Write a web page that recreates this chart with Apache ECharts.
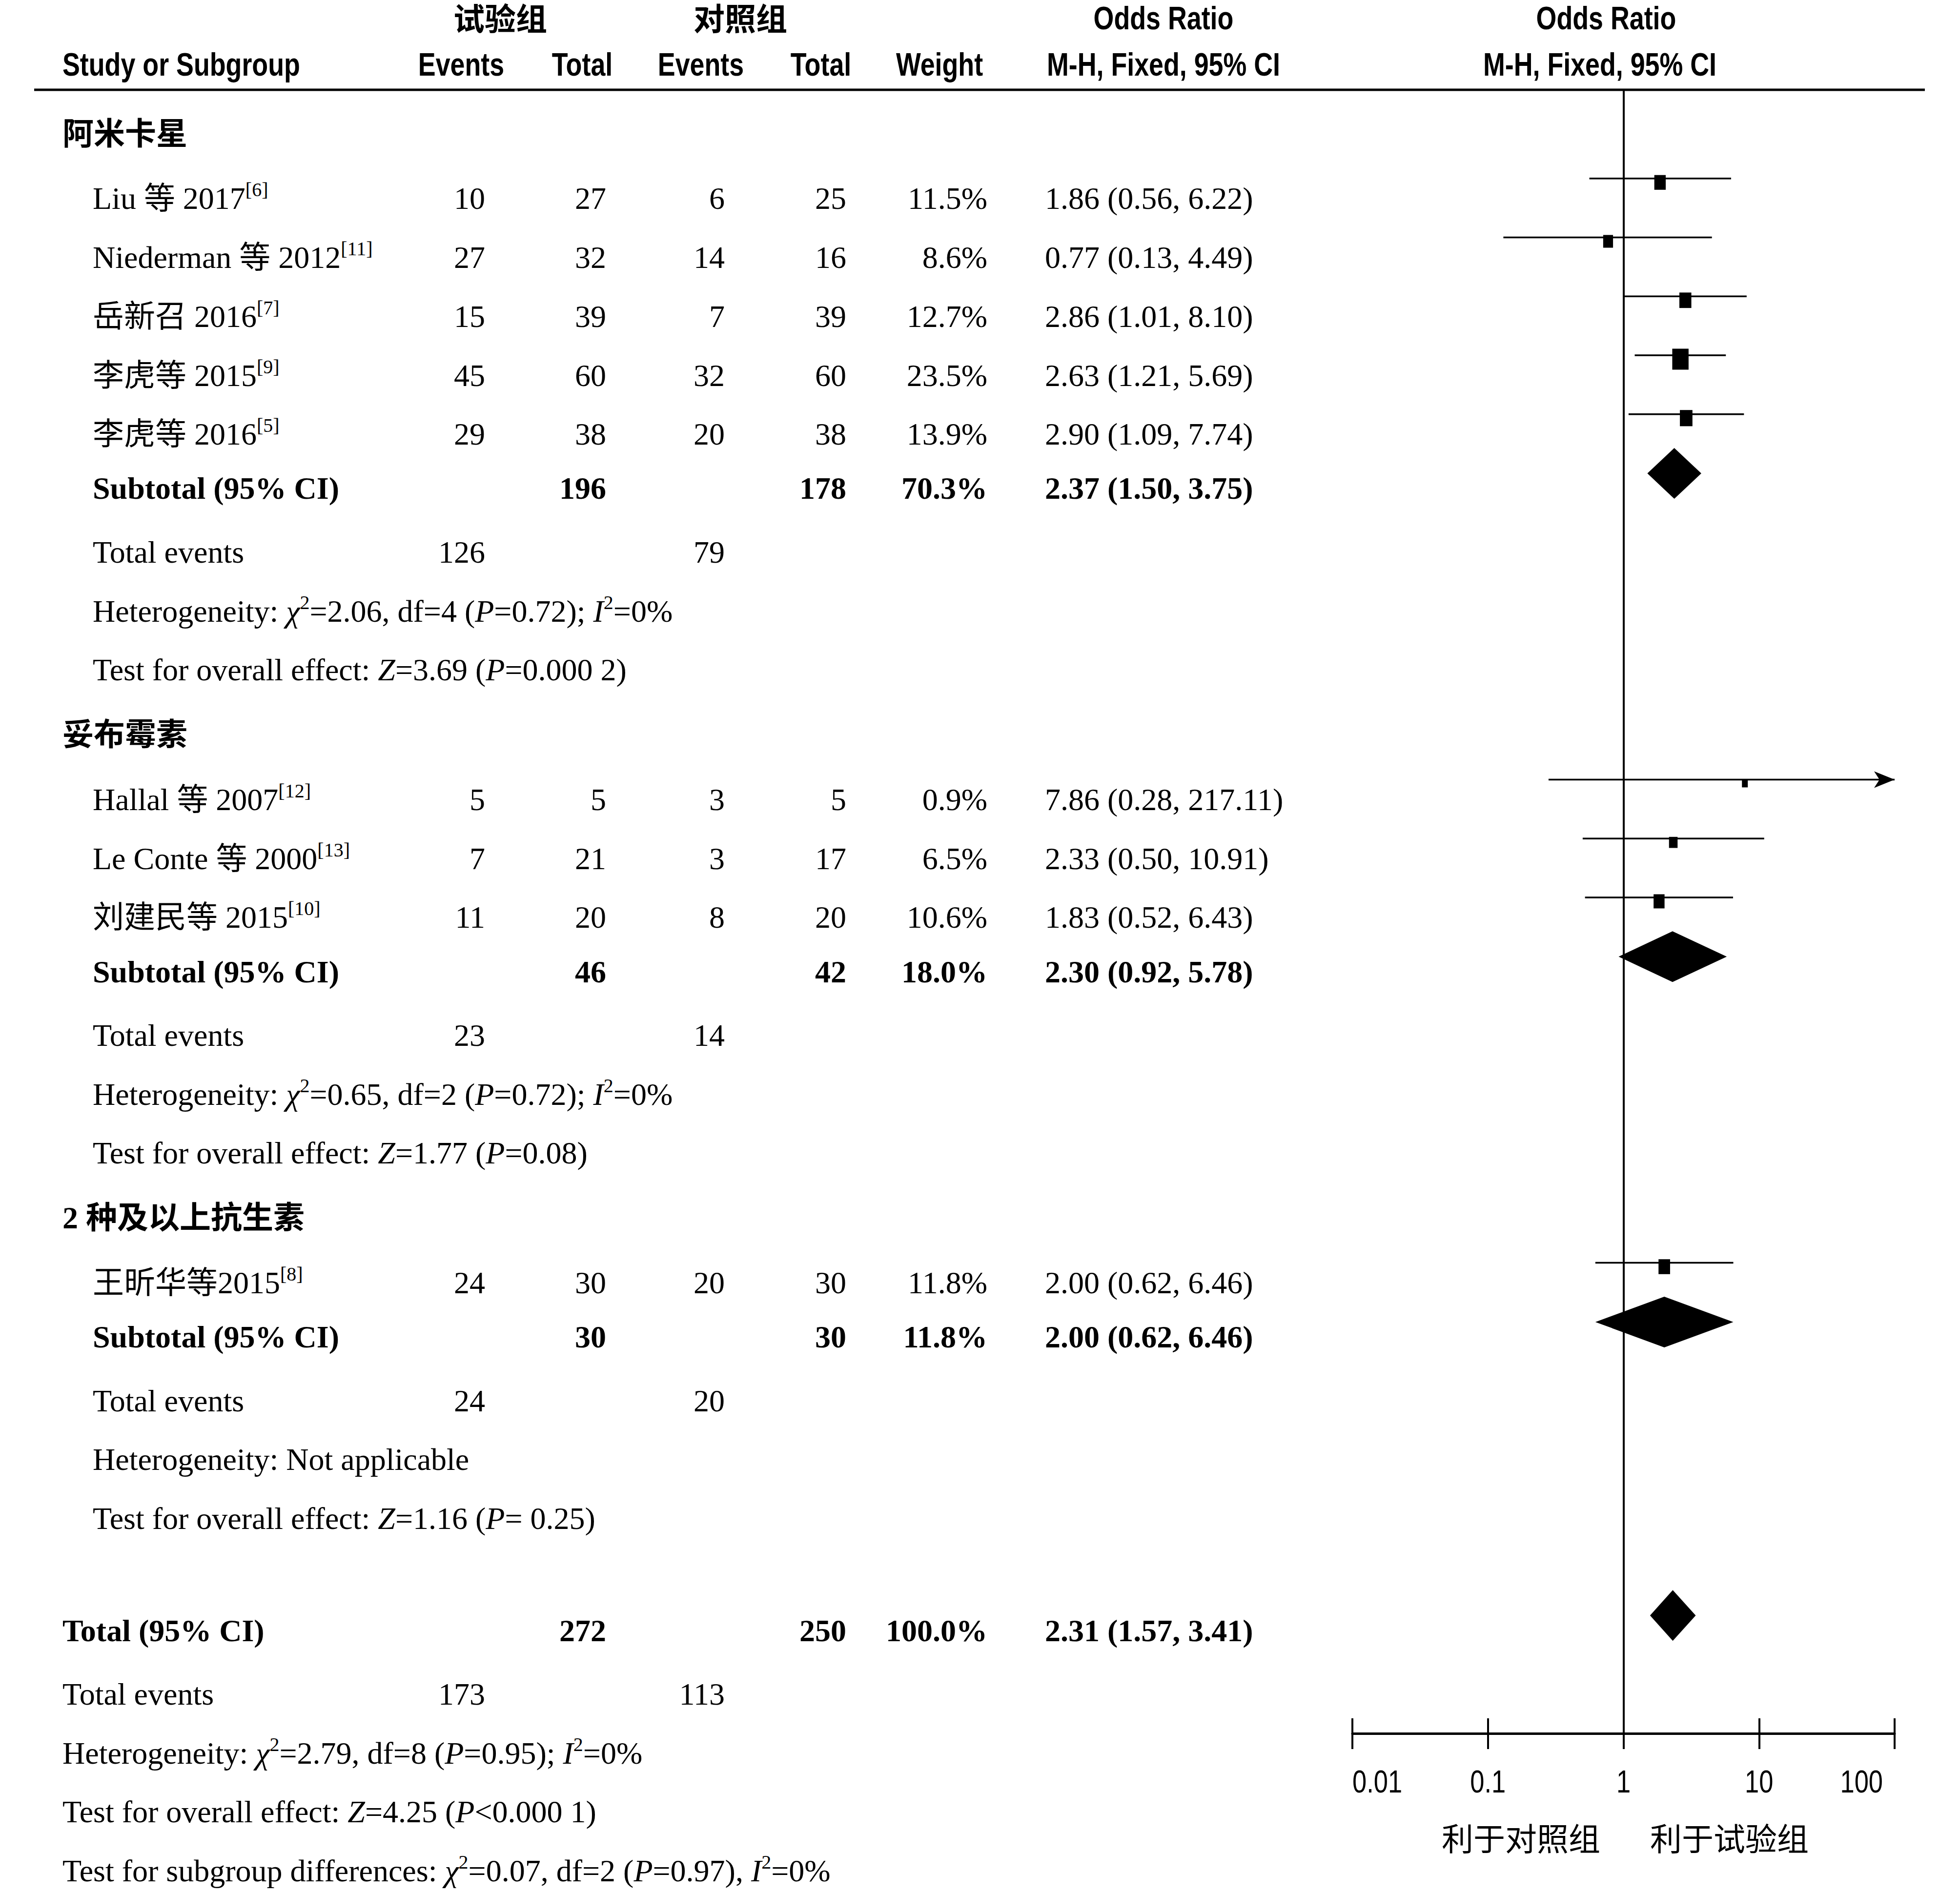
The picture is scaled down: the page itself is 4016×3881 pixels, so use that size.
<!DOCTYPE html>
<html><head><meta charset="utf-8">
<script src="https://cdn.jsdelivr.net/npm/echarts/dist/echarts.min.js"></script>
<style>html,body{margin:0;padding:0;background:#fff}#c{width:4016px;height:3881px}</style>
</head><body><div id="c"></div>
<script>
// ---------------- DATA ----------------
const groups = ['阿米卡星', '妥布霉素', '2 种及以上抗生素'];
const studies = ['Liu 等 2017', 'Niederman 等 2012', '岳新召 2016', '李虎等 2015', '李虎等 2016', 'Hallal 等 2007', 'Le Conte 等 2000', '刘建民等 2015', '王昕华等2015'];
const studyRefs = ['6', '11', '7', '9', '5', '12', '13', '10', '8'];
const studyGroup = [0, 0, 0, 0, 0, 1, 1, 1, 2];
const expEvents = [10, 27, 15, 45, 29, 5, 7, 11, 24];
const expTotal = [27, 32, 39, 60, 38, 5, 21, 20, 30];
const ctrlEvents = [6, 14, 7, 32, 20, 3, 3, 8, 20];
const ctrlTotal = [25, 16, 39, 60, 38, 5, 17, 20, 30];
const weights = [11.5, 8.6, 12.7, 23.5, 13.9, 0.9, 6.5, 10.6, 11.8];
const orVal = [1.86, 0.77, 2.86, 2.63, 2.90, 7.86, 2.33, 1.83, 2.00];
const orLow = [0.56, 0.13, 1.01, 1.21, 1.09, 0.28, 0.50, 0.52, 0.62];
const orHigh = [6.22, 4.49, 8.10, 5.69, 7.74, 217.11, 10.91, 6.43, 6.46];

const subExpTotal = [196, 46, 30];
const subCtrlTotal = [178, 42, 30];
const subWeight = [70.3, 18.0, 11.8];
const subOR = [2.37, 2.30, 2.00];
const subLow = [1.50, 0.92, 0.62];
const subHigh = [3.75, 5.78, 6.46];
const subExpEvents = [126, 23, 24];
const subCtrlEvents = [79, 14, 20];
const hetChi2 = ['2.06', '0.65', null];
const hetDf = [4, 2, null];
const hetP = ['0.72', '0.72', null];
const hetI2 = ['0', '0', null];
const testZ = ['3.69', '1.77', '1.16'];
const testP = ['=0.000 2', '=0.08', '= 0.25'];

const totalExp = 272, totalCtrl = 250, totalWeight = 100.0;
const totalOR = [2.31, 1.57, 3.41];
const totalExpEvents = 173, totalCtrlEvents = 113;
const totalHet = { chi2: '2.79', df: 8, p: '0.95', i2: '0' };
const totalTest = { z: '4.25', p: '<0.000 1' };
const subgroupDiff = { chi2: '0.07', df: 2, p: '0.97', i2: '0' };

const tickValues = [0.01, 0.1, 1, 10, 100];
const tickLabels = ['0.01', '0.1', '1', '10', '100'];
const favourLabels = ['利于对照组', '利于试验组'];
const headerTop = ['试验组', '对照组', 'Odds Ratio', 'Odds Ratio'];
const headerBottom = ['Study or Subgroup', 'Events', 'Total', 'Events', 'Total', 'Weight', 'M-H, Fixed, 95% CI', 'M-H, Fixed, 95% CI'];

// ---------------- LAYOUT ----------------
const ROW_PX = 120.75, FIRST_ROW_Y = 274, GRID_TOP = 184, AXIS_Y = 3552;
const PLOT_L = 2771, PLOT_R = 3882;
const Y_MIN = (GRID_TOP - FIRST_ROW_Y) / ROW_PX;
const Y_MAX = (AXIS_Y - FIRST_ROW_Y) / ROW_PX;
const X_MIN = 0.01, X_MAX = 100;
const STEP = { afterTest: 1.1, firstStudy: 1.1, study: 1.0, subtotal: 0.92, events: 1.08, line: 1.0, total: 1.9 };
const COL = { group: 128, name: 190, expEv: 994, expTot: 1242, ctlEv: 1485, ctlTot: 1734, weight: 2023, orText: 2141 };
const MARK_SHIFT = 0.34, DIA_SHIFT = 0.255, SQ_DROP = 8;
const SQ_KW = 6.9, SQ_KH = 8.9, SQ_MIN_W = 12, SQ_MIN_H = 16, DIA_HALF_H = 52;

const SERIF = "'Liberation Serif', 'Noto Sans CJK SC', serif";
const SANS = "'Liberation Sans', Arial, sans-serif";
const CJK = "'Noto Sans CJK SC', sans-serif";
const CJK_HEAD = "'Liberation Sans', 'Noto Sans CJK SC', sans-serif";
const FS = 64, LH = 76;
const RICH = {
  i: { fontFamily: SERIF, fontSize: FS, lineHeight: LH, fontStyle: 'italic', fill: '#000' },
  s: { fontFamily: SERIF, fontSize: 40, lineHeight: 56, verticalAlign: 'top', fill: '#000' }
};

// build row slots
const rows = [];
let s = 0;
const studySlot = [], subSlot = [];
groups.forEach((g, gi) => {
  if (gi > 0) s += STEP.afterTest;
  rows.push({ kind: 'group', slot: s, gi });
  let first = true;
  studies.forEach((st, i) => {
    if (studyGroup[i] !== gi) return;
    s += first ? STEP.firstStudy : STEP.study; first = false;
    rows.push({ kind: 'study', slot: s, i }); studySlot[i] = s;
  });
  s += STEP.subtotal; rows.push({ kind: 'subtotal', slot: s, gi }); subSlot[gi] = s;
  s += STEP.events; rows.push({ kind: 'events', slot: s, gi });
  s += STEP.line; rows.push({ kind: 'het', slot: s, gi });
  s += STEP.line; rows.push({ kind: 'test', slot: s, gi });
});
s += STEP.total; rows.push({ kind: 'total', slot: s }); const totalSlot = s;
s += STEP.events; rows.push({ kind: 'tevents', slot: s });
s += STEP.line; rows.push({ kind: 'thet', slot: s });
s += STEP.line; rows.push({ kind: 'ttest', slot: s });
s += STEP.line; rows.push({ kind: 'tdiff', slot: s });

const fmtOR = (a, b, c) => `${a.toFixed(2)} (${b.toFixed(2)}, ${c.toFixed(2)})`;
const fmtW = w => w.toFixed(1) + '%';
const hetText = (c, df, p, i2) => `Heterogeneity: {i|χ}{s|2}=${c}, df=${df} ({i|P}=${p}); {i|I}{s|2}=${i2}%`;

function T(x, y, text, opt) {
  return { type: 'text', x, y, style: Object.assign({ text: String(text), fill: '#000', fontFamily: SERIF, fontSize: FS, lineHeight: LH, align: 'left', verticalAlign: 'middle', rich: RICH }, opt || {}) };
}
const R = { align: 'right' };
const B = { fontWeight: 'bold' };
const RB = { align: 'right', fontWeight: 'bold' };

function renderRow(params, api) {
  const r = rows[api.value(2)];
  const y = api.coord([1, api.value(1)])[1];
  const c = [];
  if (r.kind === 'group') c.push(T(COL.group, y, groups[r.gi], B));
  else if (r.kind === 'study') {
    const i = r.i;
    c.push(T(COL.name, y, `${studies[i]}{s|[${studyRefs[i]}]}`));
    c.push(T(COL.expEv, y, expEvents[i], R));
    c.push(T(COL.expTot, y, expTotal[i], R));
    c.push(T(COL.ctlEv, y, ctrlEvents[i], R));
    c.push(T(COL.ctlTot, y, ctrlTotal[i], R));
    c.push(T(COL.weight, y, fmtW(weights[i]), R));
    c.push(T(COL.orText, y, fmtOR(orVal[i], orLow[i], orHigh[i])));
  } else if (r.kind === 'subtotal') {
    const g = r.gi;
    c.push(T(COL.name, y, 'Subtotal (95% CI)', B));
    c.push(T(COL.expTot, y, subExpTotal[g], RB));
    c.push(T(COL.ctlTot, y, subCtrlTotal[g], RB));
    c.push(T(COL.weight, y, fmtW(subWeight[g]), RB));
    c.push(T(COL.orText, y, fmtOR(subOR[g], subLow[g], subHigh[g]), B));
  } else if (r.kind === 'events') {
    c.push(T(COL.name, y, 'Total events'));
    c.push(T(COL.expEv, y, subExpEvents[r.gi], R));
    c.push(T(COL.ctlEv, y, subCtrlEvents[r.gi], R));
  } else if (r.kind === 'het') {
    const g = r.gi;
    c.push(T(COL.name, y, hetChi2[g] === null ? 'Heterogeneity: Not applicable' : hetText(hetChi2[g], hetDf[g], hetP[g], hetI2[g])));
  } else if (r.kind === 'test') {
    c.push(T(COL.name, y, `Test for overall effect: {i|Z}=${testZ[r.gi]} ({i|P}${testP[r.gi]})`));
  } else if (r.kind === 'total') {
    c.push(T(COL.group, y, 'Total (95% CI)', B));
    c.push(T(COL.expTot, y, totalExp, RB));
    c.push(T(COL.ctlTot, y, totalCtrl, RB));
    c.push(T(COL.weight, y, fmtW(totalWeight), RB));
    c.push(T(COL.orText, y, fmtOR(totalOR[0], totalOR[1], totalOR[2]), B));
  } else if (r.kind === 'tevents') {
    c.push(T(COL.group, y, 'Total events'));
    c.push(T(COL.expEv, y, totalExpEvents, R));
    c.push(T(COL.ctlEv, y, totalCtrlEvents, R));
  } else if (r.kind === 'thet') {
    c.push(T(COL.group, y, hetText(totalHet.chi2, totalHet.df, totalHet.p, totalHet.i2)));
  } else if (r.kind === 'ttest') {
    c.push(T(COL.group, y, `Test for overall effect: {i|Z}=${totalTest.z} ({i|P}${totalTest.p})`));
  } else if (r.kind === 'tdiff') {
    c.push(T(COL.group, y, `Test for subgroup differences: {i|χ}{s|2}=${subgroupDiff.chi2}, df=${subgroupDiff.df} ({i|P}=${subgroupDiff.p}), {i|I}{s|2}=${subgroupDiff.i2}%`));
  }
  return { type: 'group', children: c };
}

function renderStudy(params, api) {
  const or = api.value(0), lo = api.value(1), hi = api.value(2), w = api.value(4);
  const yv = api.value(3) - MARK_SHIFT;
  const pLo = api.coord([Math.max(lo, X_MIN), yv]);
  const pHi = api.coord([Math.min(hi, X_MAX), yv]);
  const pC = api.coord([or, yv]);
  const sw = Math.max(SQ_MIN_W, SQ_KW * Math.sqrt(w));
  const sh = Math.max(SQ_MIN_H, SQ_KH * Math.sqrt(w));
  const ch = [
    { type: 'line', shape: { x1: pLo[0], y1: pLo[1], x2: pHi[0], y2: pHi[1] }, style: { stroke: '#000', lineWidth: 3.5 } },
    { type: 'rect', shape: { x: pC[0] - sw / 2, y: pC[1] + SQ_DROP - sh / 2, width: sw, height: sh }, style: { fill: '#000' } }
  ];
  if (hi > X_MAX) {
    const X = pHi[0], Y = pHi[1];
    ch.push({ type: 'polygon', shape: { points: [[X, Y], [X - 42, Y - 17], [X - 31, Y], [X - 42, Y + 17]] }, style: { fill: '#000' } });
  }
  return { type: 'group', children: ch };
}

function renderDiamond(params, api) {
  const yv = api.value(3) - DIA_SHIFT;
  const pLo = api.coord([api.value(1), yv]);
  const pHi = api.coord([api.value(2), yv]);
  const pC = api.coord([api.value(0), yv]);
  return { type: 'polygon', shape: { points: [[pLo[0], pLo[1]], [pC[0], pC[1] - DIA_HALF_H], [pHi[0], pHi[1]], [pC[0], pC[1] + DIA_HALF_H]] }, style: { fill: '#000' } };
}

const studyData = studies.map((n, i) => [orVal[i], orLow[i], orHigh[i], studySlot[i], weights[i]]);
const diamondData = subOR.map((v, g) => [v, subLow[g], subHigh[g], subSlot[g]]).concat([[totalOR[0], totalOR[1], totalOR[2], totalSlot]]);
const rowData = rows.map((r, k) => [1, r.slot, k]);

const option = {
  animation: false,
  backgroundColor: '#fff',
  grid: { left: PLOT_L, top: GRID_TOP, width: PLOT_R - PLOT_L, height: AXIS_Y - GRID_TOP, containLabel: false },
  xAxis: [
    { type: 'log', logBase: 10, min: X_MIN, max: X_MAX, position: 'bottom',
      axisLine: { show: true, onZero: false, lineStyle: { color: '#000', width: 5 } },
      axisTick: { show: true, inside: false, length: 32, lineStyle: { color: '#000', width: 4 } },
      minorTick: { show: false }, splitLine: { show: false }, axisLabel: { show: false } },
    { type: 'log', logBase: 10, min: X_MIN, max: X_MAX, position: 'bottom', offset: 0,
      axisLine: { show: false, onZero: false },
      axisTick: { show: true, inside: true, length: 31, lineStyle: { color: '#000', width: 4 } },
      axisLabel: { show: false }, splitLine: { show: false }, minorTick: { show: false } }
  ],
  yAxis: { type: 'value', inverse: true, min: Y_MIN, max: Y_MAX, show: false, splitLine: { show: false } },
  series: [
    { type: 'custom', name: 'studies', renderItem: renderStudy, data: studyData, encode: { x: [0, 1, 2], y: 3 }, silent: true, clip: false,
      markLine: { silent: true, symbol: 'none', label: { show: false }, lineStyle: { color: '#000', width: 4, type: 'solid' }, data: [{ xAxis: 1 }] } },
    { type: 'custom', name: 'diamonds', renderItem: renderDiamond, data: diamondData, encode: { x: [0, 1, 2], y: 3 }, silent: true, clip: false },
    { type: 'custom', name: 'table', renderItem: renderRow, data: rowData, encode: { x: 0, y: 1 }, silent: true, clip: false }
  ]
};

const chart = echarts.init(document.getElementById('c'), null, { renderer: 'svg', width: 4016, height: 3881 });
chart.setOption(option);

// headers, tick labels & favour labels
const HS = 0.815;
function H(x, y, text, align, font, scale) {
  return { type: 'text', x, y, scaleX: scale, scaleY: 1, silent: true,
    style: Object.assign({ text, fill: '#000', align, verticalAlign: 'middle', lineHeight: 64 }, font) };
}
const HB = { fontFamily: SANS, fontWeight: 'bold', fontSize: 66 };
const HC = { fontFamily: CJK_HEAD, fontWeight: 'bold', fontSize: 64 };
const TK = { fontFamily: SANS, fontSize: 64 };
const x1 = chart.convertToPixel({ xAxisIndex: 0 }, 1);
const graphic = [
  { type: 'line', silent: true, shape: { x1: 70, y1: GRID_TOP, x2: 3944, y2: GRID_TOP }, style: { stroke: '#000', lineWidth: 5 } },
  H(1025, 40, headerTop[0], 'center', HC, 1),
  H(1517, 40, headerTop[1], 'center', HC, 1),
  H(2384, 38, headerTop[2], 'center', HB, HS),
  H(3291, 38, headerTop[3], 'center', HB, HS),
  H(128, 133, headerBottom[0], 'left', HB, HS),
  H(945, 133, headerBottom[1], 'center', HB, HS),
  H(1193, 133, headerBottom[2], 'center', HB, HS),
  H(1436, 133, headerBottom[3], 'center', HB, HS),
  H(1682, 133, headerBottom[4], 'center', HB, HS),
  H(1925, 133, headerBottom[5], 'center', HB, HS),
  H(2384, 133, headerBottom[6], 'center', HB, HS),
  H(3278, 133, headerBottom[7], 'center', HB, HS),
  H(x1 - 210, 3764, favourLabels[0], 'center', { fontFamily: CJK, fontSize: 65 }, 1),
  H(x1 + 217, 3764, favourLabels[1], 'center', { fontFamily: CJK, fontSize: 65 }, 1)
];
tickValues.forEach((v, k) => {
  const px = chart.convertToPixel({ xAxisIndex: 0 }, v);
  const last = k === tickValues.length - 1, first = k === 0;
  graphic.push(H(last ? px - 24 : px, 3651, tickLabels[k], first ? 'left' : (last ? 'right' : 'center'), TK, 0.82));
});
chart.setOption({ graphic });
</script></body></html>
